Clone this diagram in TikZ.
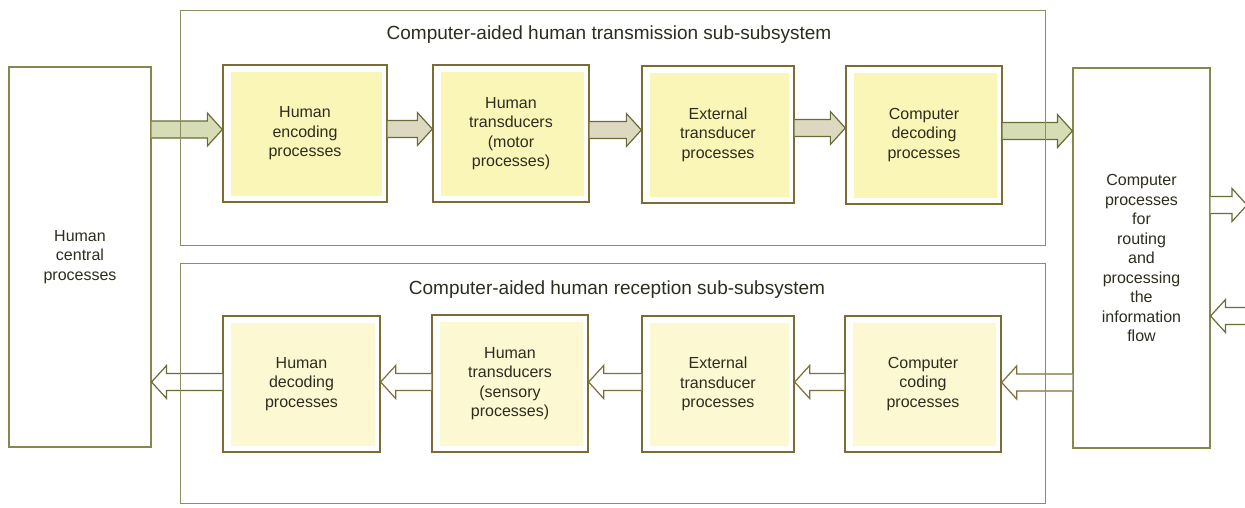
\documentclass[tikz,border=0pt]{standalone}
\usepackage{fontspec}
\setmainfont{Liberation Sans}
\usetikzlibrary{calc}
\definecolor{boxline}{HTML}{7B6B35}
\definecolor{frameline}{HTML}{8E8C62}
\definecolor{bigline}{HTML}{85874F}
\definecolor{yfillA}{HTML}{FAF6B8}
\definecolor{yfillB}{HTML}{FBF8D2}
\definecolor{txt}{HTML}{2E2C1E}
\definecolor{arrfillA}{HTML}{DCD9C0}
\definecolor{arrfillG}{HTML}{D6DCB4}
\definecolor{arrlineA}{HTML}{6A6C38}
\definecolor{arrlineB}{HTML}{7E6E3A}
\newcommand\rarr[5]{%
 \path[fill=#4] ($(#1|-0,#3)+(0,-8.5)$) -- ($(#2|-0,#3)+(-15,-8.5)$) -- ($(#2|-0,#3)+(-15,-16.5)$) -- (#2|-0,#3) -- ($(#2|-0,#3)+(-15,16.5)$) -- ($(#2|-0,#3)+(-15,8.5)$) -- ($(#1|-0,#3)+(0,8.5)$) -- cycle;
 \draw[#5] ($(#1|-0,#3)+(0,-8.5)$) -- ($(#2|-0,#3)+(-15,-8.5)$) -- ($(#2|-0,#3)+(-15,-16.5)$) -- (#2|-0,#3) -- ($(#2|-0,#3)+(-15,16.5)$) -- ($(#2|-0,#3)+(-15,8.5)$) -- ($(#1|-0,#3)+(0,8.5)$);}
\newcommand\larr[5]{%
 \path[fill=#4] ($(#1|-0,#3)+(0,-8.5)$) -- ($(#2|-0,#3)+(15,-8.5)$) -- ($(#2|-0,#3)+(15,-16.5)$) -- (#2|-0,#3) -- ($(#2|-0,#3)+(15,16.5)$) -- ($(#2|-0,#3)+(15,8.5)$) -- ($(#1|-0,#3)+(0,8.5)$) -- cycle;
 \draw[#5] ($(#1|-0,#3)+(0,-8.5)$) -- ($(#2|-0,#3)+(15,-8.5)$) -- ($(#2|-0,#3)+(15,-16.5)$) -- (#2|-0,#3) -- ($(#2|-0,#3)+(15,16.5)$) -- ($(#2|-0,#3)+(15,8.5)$) -- ($(#1|-0,#3)+(0,8.5)$);}
\tikzset{
 txtfont/.style={text=txt, font=\fontsize{16}{19.5}\selectfont},
 procbox/.style={draw=boxline, line width=1.3pt, inner sep=0pt, align=center, txtfont},
 infillA/.style={path picture={\fill[yfillA] ([shift={(8pt,-7pt)}]path picture bounding box.north west) rectangle ([shift={(-5pt,6pt)}]path picture bounding box.south east);}},
 infillB/.style={path picture={\fill[yfillB] ([shift={(8pt,-7pt)}]path picture bounding box.north west) rectangle ([shift={(-5pt,6pt)}]path picture bounding box.south east);}},
 bigbox/.style={draw=bigline, line width=1.1pt, inner sep=0pt, align=center, txtfont},
 framebox/.style={draw=frameline, line width=1pt, inner sep=0pt},
 title/.style={text=txt, font=\fontsize{19}{22}\selectfont, inner sep=0pt},
 arrA/.style={draw=arrlineA, line width=1.2pt, line join=miter},
 arrB/.style={draw=arrlineB, line width=1.2pt, line join=miter},
}
\begin{document}
\begin{tikzpicture}[x=1pt,y=-1pt]
\useasboundingbox (0,0) rectangle (1245,507);
% big side boxes
\node[bigbox, minimum width=142, minimum height=380] (L) at (80,257) {Human\\central\\processes};
\node[bigbox, minimum width=137, minimum height=380] (R) at (1141.5,258) {Computer\\processes\\for\\routing\\and\\processing\\the\\information\\flow};
% transmission row
\node[procbox, infillA, minimum width=164, minimum height=137] (t1) at (305,133.5) {Human\\encoding\\processes};
\node[procbox, infillA, minimum width=156, minimum height=137] (t2) at (511,133.5) {Human\\transducers\\(motor\\processes)};
\node[procbox, infillA, minimum width=152, minimum height=137] (t3) at (718,134.5) {External\\transducer\\processes};
\node[procbox, infillA, minimum width=156, minimum height=138] (t4) at (924,135) {Computer\\decoding\\processes};
% reception row
\node[procbox, infillB, minimum width=157, minimum height=136] (b1) at (301.5,384) {Human\\decoding\\processes};
\node[procbox, infillB, minimum width=156, minimum height=137] (b2) at (510,383.5) {Human\\transducers\\(sensory\\processes)};
\node[procbox, infillB, minimum width=152, minimum height=136] (b3) at (718,384) {External\\transducer\\processes};
\node[procbox, infillB, minimum width=156, minimum height=136] (b4) at (923,384) {Computer\\coding\\processes};
\coordinate (outR) at (1247,205);
\coordinate (inR) at (1247,316);
% arrows transmission
\rarr{L.east}{t1.west}{129.5}{arrfillG}{arrA}
\rarr{t1.east}{t2.west}{129}{arrfillA}{arrA}
\rarr{t2.east}{t3.west}{130}{arrfillA}{arrA}
\rarr{t3.east}{t4.west}{128}{arrfillA}{arrA}
\rarr{t4.east}{R.west}{131}{arrfillG}{arrA}
\rarr{R.east}{outR}{205}{white}{arrA}
% arrows reception
\larr{inR}{R.east}{316}{white}{arrA}
\larr{R.west}{b4.east}{382.5}{white}{arrB}
\larr{b4.west}{b3.east}{382}{white}{arrB}
\larr{b3.west}{b2.east}{382}{white}{arrB}
\larr{b2.west}{b1.east}{382}{white}{arrB}
\larr{b1.west}{L.east}{382}{white}{arrA}
% sub-subsystem frames
\node[framebox, minimum width=865, minimum height=235] (ft) at (612.5,127.5) {};
\node[framebox, minimum width=865, minimum height=240] (fb) at (612.5,383) {};
\node[title] (ttl) at (609,35) {Computer-aided human transmission sub-subsystem};
\node[title] (btl) at (617,290) {Computer-aided human reception sub-subsystem};
\end{tikzpicture}
\end{document}
